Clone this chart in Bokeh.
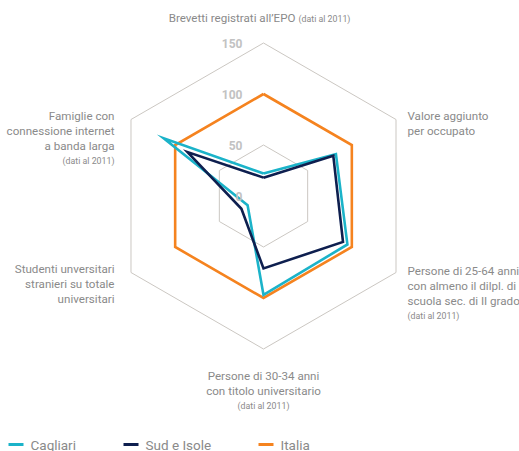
import numpy as np
from bokeh.plotting import figure
from bokeh.models import Range1d
from bokeh.core.properties import value
from bokeh.embed import file_html
from bokeh.resources import INLINE

# ---- data ----
axis_labels = [
    "Brevetti registrati all'EPO",
    "Valore aggiunto per occupato",
    "Persone di 25-64 anni con almeno il dilpl. di scuola sec. di II grado",
    "Persone di 30-34 anni con titolo universitario",
    "Studenti unversitari stranieri su totale universitari",
    "Famiglie con connessione internet a banda larga",
]
series_names = ["Cagliari", "Sud e Isole", "Italia"]
cagliari = [22, 82, 95, 97, 18, 113]
sud_isole = [18, 79, 90, 71, 25, 86]
italia = [100, 100, 100, 100, 100, 100]
tick_values = [0, 50, 100, 150]
tick_labels = ["0", "50", "100", "150"]
grid_levels = [50, 100, 150]

# ---- style ----
colors = {"Cagliari": "#1bb3c9", "Sud e Isole": "#0e1f4f", "Italia": "#f5831f"}
FONT = value("Roboto")
TXT = "#8a8a8a"
GRID = "#cbc7c2"
FS = "11.6px"
FS_SMALL = "8.8px"

angles = np.deg2rad([90, 30, -30, -90, -150, 150])

def polar(vals):
    v = np.array(list(vals) + [vals[0]], dtype=float)
    a = np.append(angles, angles[0])
    return list(v * np.cos(a)), list(v * np.sin(a))

PX = 1.02
CX, CY = 263.0, 195.5
W, H = 519, 451

def R(x, y):
    return (x - CX) / PX, (CY - y) / PX

p = figure(width=W, height=H, output_backend="svg", toolbar_location=None,
           x_range=Range1d(-CX / PX, (W - CX) / PX), y_range=Range1d((CY - H) / PX, CY / PX),
           x_axis_type=None, y_axis_type=None, min_border=0)
p.grid.visible = False
p.outline_line_color = None
p.background_fill_color = "white"

# grid hexagons
for lv in grid_levels:
    xs, ys = polar([lv] * 6)
    p.line(xs, ys, line_color=GRID, line_width=1)

# series
for name, vals in [("Italia", italia), ("Cagliari", cagliari), ("Sud e Isole", sud_isole)]:
    xs, ys = polar(vals)
    p.line(xs, ys, line_color=colors[name], line_width=2.6, line_join="miter")

# tick labels
tx = [R(242, 0)[0]] * len(tick_values)
ty = [v * np.sin(angles[0]) for v in tick_values]
p.text(tx, ty, text=tick_labels, text_align="right", text_baseline="middle",
       text_font=FONT, text_font_size="12px", text_font_style="bold", text_color="#c2c2c2")

def lines(x, y0, texts, align, small_last=False, step=15.3):
    for i, t in enumerate(texts):
        xx, yy = R(x, y0 + i * step)
        small = small_last and i == len(texts) - 1
        p.text([xx], [yy], text=[t], text_align=align, text_baseline="middle",
               text_font=FONT, text_font_size=FS_SMALL if small else FS, text_color=TXT)

# top label
bx, by = R(295, 17)
p.text([bx], [by], text=["Brevetti registrati all\u2019EPO"], text_align="right", text_baseline="middle",
       text_font=FONT, text_font_size=FS, text_color=TXT)
bx2, by2 = R(298, 18)
p.text([bx2], [by2], text=["(dati al 2011)"], text_align="left", text_baseline="middle",
       text_font=FONT, text_font_size=FS_SMALL, text_color=TXT)

lines(407, 115, ["Valore aggiunto", "per occupato"], "left")
lines(407, 270, ["Persone di 25-64 anni", "con almeno il dilpl. di", "scuola sec. di II grado", "(dati al 2011)"], "left", True)
lines(263, 375, ["Persone di 30-34 anni", "con titolo universitario", "(dati al 2011)"], "center", True)
lines(114, 268, ["Studenti unversitari", "stranieri su totale", "universitari"], "right")
lines(114, 115, ["Famiglie con", "connessione internet", "a banda larga", "(dati al 2011)"], "right", True)

# legend
leg_x = [8, 123, 258]
for nm, lx in zip(series_names, leg_x):
    x0, yy = R(lx, 444)
    x1, _ = R(lx + 15, 444)
    p.line([x0, x1], [yy, yy], line_color=colors[nm], line_width=3)
    xt, yt = R(lx + 22, 444)
    p.text([xt], [yt], text=[nm], text_align="left", text_baseline="middle",
           text_font=FONT, text_font_size="13.5px", text_color=TXT)

open("out.html", "w").write(file_html(p, INLINE))
